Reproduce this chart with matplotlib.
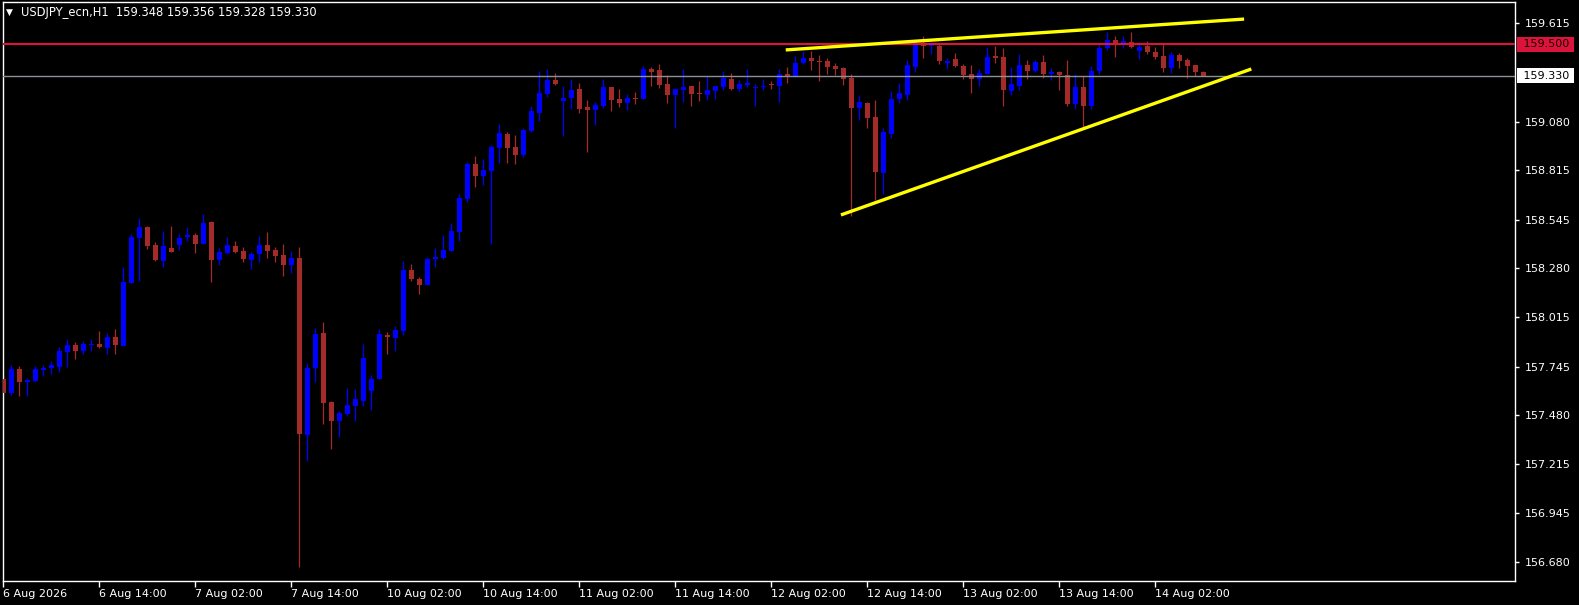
import matplotlib
matplotlib.use("Agg")
import matplotlib.pyplot as plt
import matplotlib.transforms as mtransforms

# USDJPY H1 candles, 6 Aug 02:00 .. 14 Aug 08:00
opens = [
    157.677, 157.601, 157.732, 157.662, 157.667, 157.728, 157.739, 157.743, 157.826, 157.863,
    157.830, 157.865, 157.868, 157.846, 157.906, 157.859, 158.202, 158.447, 158.506, 158.407,
    158.322, 158.391, 158.409, 158.453, 158.462, 158.415, 158.533, 158.327, 158.364, 158.402,
    158.375, 158.327, 158.360, 158.407, 158.380, 158.353, 158.300, 158.337, 157.374, 157.739,
    157.928, 157.552, 157.451, 157.489, 157.532, 157.558, 157.612, 157.677, 157.917, 157.901,
    157.939, 158.271, 158.222, 158.190, 158.331, 158.337, 158.375, 158.478, 158.658, 158.849,
    158.783, 158.811, 158.936, 159.012, 158.941, 158.898, 159.028, 159.126, 159.230, 159.306,
    159.192, 159.208, 159.257, 159.159, 159.144, 159.166, 159.268, 159.203, 159.183, 159.208,
    159.203, 159.366, 159.361, 159.284, 159.226, 159.252, 159.273, 159.237, 159.226, 159.246,
    159.268, 159.312, 159.257, 159.279, 159.265, 159.270, 159.281, 159.275, 159.339, 159.323,
    159.399, 159.426, 159.410, 159.410, 159.382, 159.371, 159.317, 159.154, 159.181, 159.105,
    158.800, 159.012, 159.203, 159.224, 159.377, 159.508, 159.491, 159.491, 159.399, 159.420,
    159.382, 159.339, 159.312, 159.339, 159.437, 159.431, 159.246, 159.273, 159.388, 159.355,
    159.404, 159.339, 159.350, 159.333, 159.175, 159.268, 159.165, 159.355, 159.480, 159.524,
    159.508, 159.513, 159.464, 159.491, 159.459, 159.437, 159.371, 159.442, 159.415, 159.388,
    159.348,
]
highs = [
    157.699, 157.754, 157.748, 157.685, 157.748, 157.754, 157.776, 157.852, 157.896, 157.879,
    157.885, 157.896, 157.939, 157.928, 157.950, 158.288, 158.467, 158.556, 158.511, 158.424,
    158.484, 158.511, 158.469, 158.506, 158.473, 158.577, 158.538, 158.391, 158.451, 158.429,
    158.396, 158.369, 158.456, 158.478, 158.396, 158.413, 158.375, 158.396, 157.765, 157.955,
    157.988, 157.556, 157.504, 157.630, 157.623, 157.868, 157.699, 157.950, 157.934, 157.966,
    158.320, 158.304, 158.233, 158.342, 158.391, 158.462, 158.527, 158.685, 158.860, 158.892,
    158.876, 158.952, 159.066, 159.023, 159.006, 159.045, 159.165, 159.355, 159.366, 159.344,
    159.274, 159.312, 159.290, 159.197, 159.186, 159.312, 159.270, 159.257, 159.230, 159.241,
    159.382, 159.377, 159.393, 159.333, 159.259, 159.366, 159.275, 159.301, 159.328, 159.275,
    159.355, 159.344, 159.306, 159.366, 159.284, 159.312, 159.301, 159.366, 159.377, 159.437,
    159.464, 159.464, 159.442, 159.426, 159.399, 159.375, 159.339, 159.224, 159.186, 159.197,
    159.045, 159.246, 159.290, 159.415, 159.524, 159.546, 159.513, 159.508, 159.426, 159.453,
    159.393, 159.388, 159.366, 159.486, 159.491, 159.480, 159.377, 159.448, 159.415, 159.415,
    159.442, 159.371, 159.355, 159.415, 159.339, 159.328, 159.382, 159.497, 159.568, 159.546,
    159.546, 159.568, 159.513, 159.519, 159.486, 159.502, 159.459, 159.453, 159.426, 159.390,
    159.356,
]
lows = [
    157.563, 157.590, 157.585, 157.585, 157.661, 157.695, 157.706, 157.717, 157.744, 157.788,
    157.814, 157.830, 157.846, 157.814, 157.814, 157.855, 158.200, 158.213, 158.387, 158.320,
    158.288, 158.368, 158.382, 158.431, 158.366, 158.413, 158.208, 158.300, 158.360, 158.366,
    158.317, 158.279, 158.317, 158.338, 158.317, 158.240, 158.257, 156.655, 157.233, 157.663,
    157.434, 157.298, 157.363, 157.478, 157.451, 157.532, 157.511, 157.677, 157.814, 157.830,
    157.917, 158.211, 158.140, 158.188, 158.288, 158.331, 158.373, 158.429, 158.642, 158.723,
    158.734, 158.413, 158.854, 158.854, 158.849, 158.887, 159.023, 159.083, 159.214, 159.279,
    159.001, 159.148, 159.126, 158.916, 159.063, 159.155, 159.139, 159.161, 159.144, 159.177,
    159.201, 159.274, 159.263, 159.181, 159.046, 159.188, 159.166, 159.193, 159.199, 159.204,
    159.253, 159.252, 159.246, 159.268, 159.166, 159.253, 159.257, 159.188, 159.290, 159.321,
    159.393, 159.361, 159.301, 159.339, 159.333, 159.279, 158.566, 159.088, 159.045, 158.653,
    158.685, 158.990, 159.181, 159.197, 159.350, 159.426, 159.448, 159.393, 159.366, 159.377,
    159.312, 159.235, 159.274, 159.337, 159.399, 159.165, 159.224, 159.252, 159.312, 159.350,
    159.317, 159.306, 159.252, 159.165, 159.148, 159.040, 159.148, 159.339, 159.470, 159.431,
    159.480, 159.480, 159.420, 159.448, 159.420, 159.350, 159.344, 159.371, 159.317, 159.328,
    159.328,
]
closes = [
    157.601, 157.732, 157.662, 157.672, 157.732, 157.739, 157.754, 157.830, 157.863, 157.830,
    157.868, 157.868, 157.852, 157.906, 157.863, 158.206, 158.451, 158.506, 158.404, 158.326,
    158.402, 158.371, 158.446, 158.462, 158.415, 158.526, 158.327, 158.369, 158.407, 158.371,
    158.333, 158.358, 158.407, 158.376, 158.349, 158.300, 158.337, 157.380, 157.738, 157.923,
    157.549, 157.451, 157.493, 157.536, 157.569, 157.792, 157.677, 157.923, 157.906, 157.945,
    158.271, 158.222, 158.190, 158.331, 158.342, 158.380, 158.484, 158.664, 158.849, 158.783,
    158.816, 158.941, 159.017, 158.936, 158.898, 159.034, 159.137, 159.235, 159.306, 159.284,
    159.208, 159.252, 159.148, 159.144, 159.170, 159.268, 159.199, 159.183, 159.208, 159.204,
    159.366, 159.350, 159.279, 159.226, 159.257, 159.268, 159.232, 159.232, 159.252, 159.273,
    159.317, 159.257, 159.284, 159.290, 159.268, 159.273, 159.277, 159.339, 159.330, 159.399,
    159.426, 159.410, 159.404, 159.377, 159.366, 159.312, 159.154, 159.186, 159.099, 158.805,
    159.023, 159.203, 159.235, 159.388, 159.502, 159.491, 159.497, 159.410, 159.410, 159.382,
    159.333, 159.312, 159.344, 159.431, 159.426, 159.252, 159.284, 159.388, 159.355, 159.404,
    159.339, 159.350, 159.333, 159.175, 159.268, 159.165, 159.355, 159.480, 159.524, 159.502,
    159.519, 159.486, 159.486, 159.459, 159.431, 159.371, 159.442, 159.410, 159.382, 159.350,
    159.330,
]

time_labels = ["6 Aug 2026", "6 Aug 14:00", "7 Aug 02:00", "7 Aug 14:00", "10 Aug 02:00",
               "10 Aug 14:00", "11 Aug 02:00", "11 Aug 14:00", "12 Aug 02:00", "12 Aug 14:00",
               "13 Aug 02:00", "13 Aug 14:00", "14 Aug 02:00"]
price_ticks = [159.615, 159.080, 158.815, 158.545, 158.280, 158.015,
               157.745, 157.480, 157.215, 156.945, 156.680]

# trendline anchors (bar index, price)
upper_bars, upper_prices = [97.8, 155.1], [159.470, 159.638]
lower_bars, lower_prices = [104.7, 156.0], [158.571, 159.366]
level_price = 159.500
bid_price = closes[-1]

BULL = "#0000ff"
BEAR = "#a52a2a"

W, H = 1579, 605
fig = plt.figure(figsize=(W / 100, H / 100), dpi=100, facecolor="black")
ax = fig.add_axes([3 / W, 24 / H, 1512 / W, 579 / H], facecolor="black")

xs = list(range(len(opens)))
colors = [BULL if c >= o else BEAR for o, c in zip(opens, closes)]
bottoms = [min(o, c) for o, c in zip(opens, closes)]
heights = [max(abs(c - o), 0.0055) for o, c in zip(opens, closes)]

ax.vlines(xs, lows, highs, colors=colors, linewidth=0.9, zorder=2)
ax.bar(xs, heights, bottom=bottoms, width=0.62, color=colors, linewidth=0, zorder=3)

# horizontal level + bid line
ax.axhline(level_price, color="#dc143c", linewidth=1.5, zorder=4)
ax.axhline(bid_price, color="#8c9096", linewidth=1.0, zorder=4)

# trendlines
ax.plot(upper_bars, upper_prices, color="#ffff00", linewidth=2.4, zorder=5, solid_capstyle="butt")
ax.plot(lower_bars, lower_prices, color="#ffff00", linewidth=2.4, zorder=5, solid_capstyle="butt")

ax.set_xlim(-0.04, 188.96)
ax.set_ylim(156.577, 159.731)

for s in ax.spines.values():
    s.set_color("white")
    s.set_linewidth(1.0)

ax.yaxis.tick_right()
ax.set_yticks(price_ticks)
ax.set_yticklabels([f"{p:.3f}" for p in price_ticks])
ax.tick_params(axis="y", colors="white", labelsize=8, length=3, width=1, pad=4)

ax.set_xticks(range(0, 12 * len(time_labels), 12))
ax.set_xticklabels(time_labels, ha="left")
ax.tick_params(axis="x", colors="white", labelsize=8, length=4, width=1, pad=2)

# price tags on the right scale
blend = mtransforms.blended_transform_factory(ax.transAxes, ax.transData)
tag_x = 1.0 + 4.5 / 1512
ax.text(tag_x, level_price, " 159.500 ", transform=blend, ha="left", va="center",
        fontsize=8, color="#1a0000",
        bbox=dict(boxstyle="square,pad=0.2", facecolor="#dc143c", edgecolor="none"))
ax.text(tag_x, bid_price, f" {bid_price:.3f} ", transform=blend, ha="left", va="center",
        fontsize=8, color="black",
        bbox=dict(boxstyle="square,pad=0.2", facecolor="white", edgecolor="none"))

# header
fig.text(6 / W, 1 - 12.5 / H, "\u25bc", color="white", fontsize=6.5, va="center", ha="left")
fig.text(21 / W, 1 - 12.5 / H,
         f"USDJPY_ecn,H1  {opens[-1]:.3f} {highs[-1]:.3f} {lows[-1]:.3f} {closes[-1]:.3f}",
         color="white", fontsize=8.3, va="center", ha="left")

fig.savefig("out.png", dpi=100, facecolor="black")
